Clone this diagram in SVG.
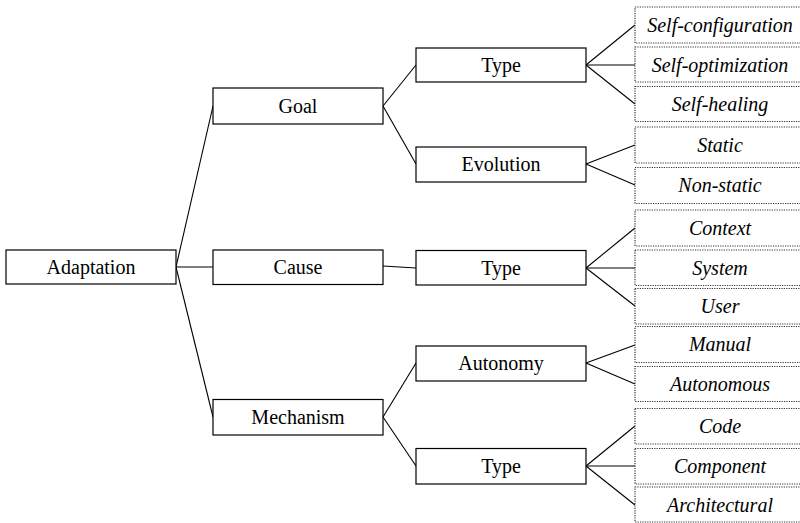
<svg xmlns="http://www.w3.org/2000/svg" width="800" height="523" viewBox="0 0 800 523">
<defs>
<style>
.n rect{fill:#fff;stroke:#000;stroke-width:1.2}
.l rect{fill:#fff;stroke:#333;stroke-width:1.2;stroke-dasharray:1.2 1.2}
#connectors line{stroke:#000;stroke-width:1.1}
</style>
</defs>
<rect width="800" height="523" fill="#fff"/>
<g id="connectors">
<line x1="176" y1="267" x2="213" y2="106"/>
<line x1="176" y1="267" x2="213" y2="267"/>
<line x1="176" y1="267" x2="213" y2="417"/>
<line x1="383" y1="106" x2="416" y2="65"/>
<line x1="383" y1="106" x2="416" y2="164"/>
<line x1="383" y1="266" x2="416" y2="268"/>
<line x1="383" y1="417" x2="416" y2="363"/>
<line x1="383" y1="417" x2="416" y2="466"/>
<line x1="586" y1="65" x2="635" y2="25"/>
<line x1="586" y1="65" x2="635" y2="65"/>
<line x1="586" y1="65" x2="635" y2="104"/>
<line x1="586" y1="164" x2="635" y2="145"/>
<line x1="586" y1="164" x2="635" y2="185"/>
<line x1="586" y1="268" x2="635" y2="228"/>
<line x1="586" y1="268" x2="635" y2="268"/>
<line x1="586" y1="268" x2="635" y2="306"/>
<line x1="586" y1="363" x2="635" y2="345"/>
<line x1="586" y1="363" x2="635" y2="384"/>
<line x1="586" y1="466" x2="635" y2="426"/>
<line x1="586" y1="466" x2="635" y2="466"/>
<line x1="586" y1="466" x2="635" y2="505"/>
</g>
<g id="adaptation" class="n"><rect x="6" y="250" width="170" height="34"/><text x="91" y="274" font-family="Liberation Serif" font-size="20" text-anchor="middle">Adaptation</text></g>
<g id="goal" class="n"><rect x="213" y="88" width="170" height="36"/><text x="298" y="113" font-family="Liberation Serif" font-size="20" text-anchor="middle">Goal</text></g>
<g id="cause" class="n"><rect x="213" y="250" width="170" height="34.5"/><text x="298" y="274" font-family="Liberation Serif" font-size="20" text-anchor="middle">Cause</text></g>
<g id="mechanism" class="n"><rect x="213" y="399.5" width="170" height="35.5"/><text x="298" y="424" font-family="Liberation Serif" font-size="20" text-anchor="middle">Mechanism</text></g>
<g id="goal-type" class="n"><rect x="416" y="48" width="170" height="34"/><text x="501" y="72" font-family="Liberation Serif" font-size="20" text-anchor="middle">Type</text></g>
<g id="evolution" class="n"><rect x="416" y="147" width="170" height="35"/><text x="501" y="171" font-family="Liberation Serif" font-size="20" text-anchor="middle">Evolution</text></g>
<g id="cause-type" class="n"><rect x="416" y="250.5" width="170" height="34.5"/><text x="501" y="275" font-family="Liberation Serif" font-size="20" text-anchor="middle">Type</text></g>
<g id="autonomy" class="n"><rect x="416" y="346" width="170" height="35"/><text x="501" y="370" font-family="Liberation Serif" font-size="20" text-anchor="middle">Autonomy</text></g>
<g id="mech-type" class="n"><rect x="416" y="448.5" width="170" height="35.5"/><text x="501" y="473" font-family="Liberation Serif" font-size="20" text-anchor="middle">Type</text></g>
<g id="self-configuration" class="l"><rect x="635" y="7" width="180" height="36"/><text x="720" y="32" font-family="Liberation Serif" font-size="20" font-style="italic" text-anchor="middle">Self-configuration</text></g>
<g id="self-optimization" class="l"><rect x="635" y="47" width="180" height="35"/><text x="720" y="72" font-family="Liberation Serif" font-size="20" font-style="italic" text-anchor="middle">Self-optimization</text></g>
<g id="self-healing" class="l"><rect x="635" y="86.5" width="180" height="35"/><text x="720" y="111" font-family="Liberation Serif" font-size="20" font-style="italic" text-anchor="middle">Self-healing</text></g>
<g id="static" class="l"><rect x="635" y="127" width="180" height="36"/><text x="720" y="152" font-family="Liberation Serif" font-size="20" font-style="italic" text-anchor="middle">Static</text></g>
<g id="non-static" class="l"><rect x="635" y="167.5" width="180" height="36"/><text x="720" y="192" font-family="Liberation Serif" font-size="20" font-style="italic" text-anchor="middle">Non-static</text></g>
<g id="context" class="l"><rect x="635" y="210" width="180" height="36"/><text x="720" y="235" font-family="Liberation Serif" font-size="20" font-style="italic" text-anchor="middle">Context</text></g>
<g id="system" class="l"><rect x="635" y="250" width="180" height="35.5"/><text x="720" y="275" font-family="Liberation Serif" font-size="20" font-style="italic" text-anchor="middle">System</text></g>
<g id="user" class="l"><rect x="635" y="288.5" width="180" height="35.5"/><text x="720" y="313" font-family="Liberation Serif" font-size="20" font-style="italic" text-anchor="middle">User</text></g>
<g id="manual" class="l"><rect x="635" y="326.5" width="180" height="36"/><text x="720" y="351" font-family="Liberation Serif" font-size="20" font-style="italic" text-anchor="middle">Manual</text></g>
<g id="autonomous" class="l"><rect x="635" y="366.5" width="180" height="35"/><text x="720" y="391" font-family="Liberation Serif" font-size="20" font-style="italic" text-anchor="middle">Autonomous</text></g>
<g id="code" class="l"><rect x="635" y="408.5" width="180" height="35.5"/><text x="720" y="433" font-family="Liberation Serif" font-size="20" font-style="italic" text-anchor="middle">Code</text></g>
<g id="component" class="l"><rect x="635" y="448.5" width="180" height="35.5"/><text x="720" y="473" font-family="Liberation Serif" font-size="20" font-style="italic" text-anchor="middle">Component</text></g>
<g id="architectural" class="l"><rect x="635" y="487" width="180" height="35"/><text x="720" y="512" font-family="Liberation Serif" font-size="20" font-style="italic" text-anchor="middle">Architectural</text></g>
</svg>
